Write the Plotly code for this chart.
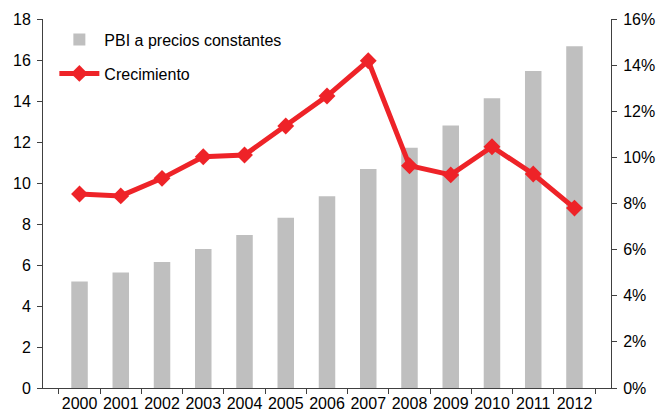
import plotly.graph_objects as go

years = ["2000","2001","2002","2003","2004","2005","2006","2007","2008","2009","2010","2011","2012"]
pbi = [5.2, 5.64, 6.15, 6.78, 7.46, 8.3, 9.35, 10.68, 11.72, 12.8, 14.13, 15.46, 16.67]
crecimiento = [8.41, 8.33, 9.09, 10.03, 10.1, 11.36, 12.66, 14.19, 9.64, 9.24, 10.46, 9.28, 7.8]
left_ticks = [0, 2, 4, 6, 8, 10, 12, 14, 16, 18]
right_ticks = [0, 2, 4, 6, 8, 10, 12, 14, 16]

fig = go.Figure()
fig.add_trace(go.Bar(x=years, y=pbi, name="PBI a precios constantes", legendgroup="a",
                     marker=dict(color="#BFBFBF", line=dict(width=0)), width=0.4, yaxis="y"))
fig.add_trace(go.Scatter(x=years, y=crecimiento, name="Crecimiento", yaxis="y2", legendgroup="b",
                         mode="lines+markers",
                         line=dict(color="#EE2328", width=5),
                         marker=dict(symbol="diamond", size=13, color="#EE2328")))

font = dict(family="Liberation Sans, Arial, sans-serif", size=16, color="#000000")
fig.update_layout(
    width=658, height=414,
    margin=dict(l=43, r=47, t=19, b=26),
    paper_bgcolor="white", plot_bgcolor="white",
    font=font,
    showlegend=True,
    legend=dict(x=0.02, y=0.99, xanchor="left", yanchor="top", bgcolor="rgba(0,0,0,0)",
                font=font, itemwidth=40, traceorder="grouped", tracegroupgap=10),
    xaxis=dict(type="category", showline=True, linecolor="#404040", linewidth=1,
               ticks="outside", tickson="boundaries", ticklen=5, tickcolor="#404040",
               showgrid=False, tickfont=font, tickangle=0, automargin=False,
               ticklabelstandoff=1),
    yaxis=dict(range=[0, 18], tickvals=left_ticks, showline=True, linecolor="#404040",
               linewidth=1, ticks="outside", ticklen=5, tickcolor="#404040",
               showgrid=False, zeroline=False, tickfont=font, automargin=False,
               ticklabelstandoff=3),
    yaxis2=dict(range=[0, 16], tickvals=right_ticks, ticktext=[f"{v}%" for v in right_ticks],
                overlaying="y", side="right", showline=True, linecolor="#404040", linewidth=1,
                ticks="outside", ticklen=5, tickcolor="#404040", showgrid=False,
                zeroline=False, tickfont=font, automargin=False, ticklabelstandoff=3),
)
fig.write_html("out.html")
